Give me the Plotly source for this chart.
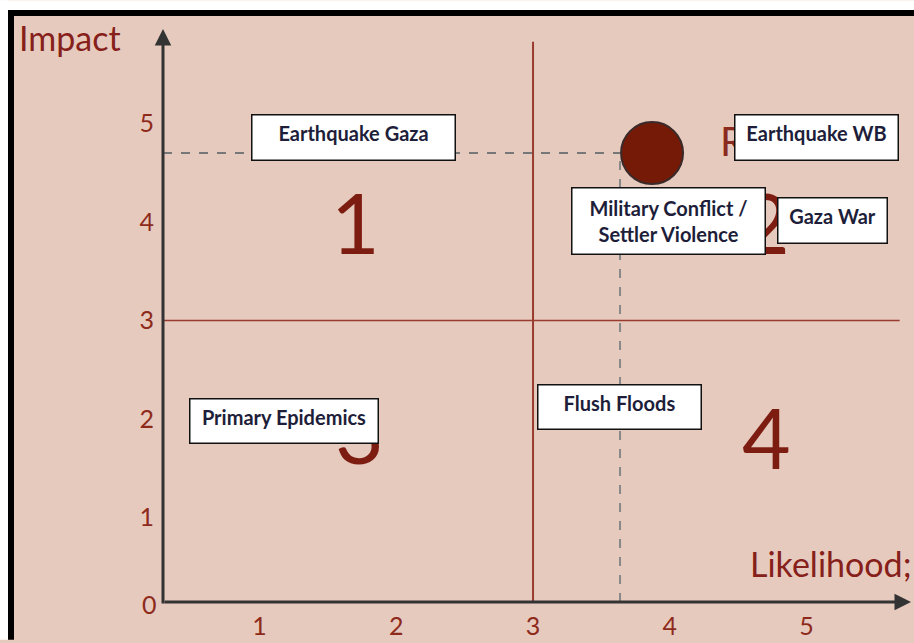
import plotly.graph_objects as go

# ---------------- data ----------------
x_ticks = [1, 2, 3, 4, 5]
y_ticks = [1, 2, 3, 4, 5]

risk_labels = ["Earthquake Gaza", "Earthquake WB", "Military Conflict /<br>Settler Violence",
               "Gaza War", "Primary Epidemics", "Flush Floods"]
risk_likelihood = [1.69, 5.07, 3.99, 5.19, 1.18, 3.63]
risk_impact = [4.86, 4.86, 4.01, 4.02, 1.98, 2.12]

quadrant_names = ["1", "2", "3", "4"]
quadrant_likelihood = [1.70, 4.70, 1.73, 4.71]
quadrant_impact = [4.01, 4.01, 1.87, 1.82]

highlight_likelihood = [3.87]
highlight_impact = [4.70]
guide_likelihood = 3.636
guide_impact = 4.70

split_likelihood = 3
split_impact = 3

# ---------------- styles ----------------
W, H = 914, 643
ML, MR, MT, MB = 163, 3, 29, 38
XR = [0.295, 5.763]
YR = [0.141, 5.96]
PINK = "#e6cabd"
RED = "#7d1d12"
TICKRED = "#8e2a1c"
LINE_RED = "#9a3b2f"
AXIS = "#333333"
TXT = "#1e1e3a"

box_w = [204, 164, 194, 110, 189, 164]
box_h = [46, 46, 67, 46, 45, 45]
box_valign = ["top", "top", "middle", "top", "top", "top"]

pw, ph = W - ML - MR, H - MT - MB


def px_x(px):
    return (px - ML) / pw


def px_y(py):
    return (H - MB - py) / ph


fig = go.Figure()

# highlighted risk marker
fig.add_trace(go.Scatter(
    x=highlight_likelihood, y=highlight_impact, mode="markers",
    marker=dict(size=62, color="#761a08", line=dict(color="#3a2a2a", width=2)),
    hoverinfo="skip", showlegend=False))

shapes = []
# quadrant split lines
shapes.append(dict(type="line", xref="x", yref="y", x0=split_likelihood, x1=split_likelihood,
                   y0=YR[0], y1=5.83, line=dict(color=LINE_RED, width=2), layer="below"))
shapes.append(dict(type="line", xref="x", yref="y", x0=XR[0], x1=5.68,
                   y0=split_impact, y1=split_impact, line=dict(color=LINE_RED, width=1.5), layer="below"))
# dashed guides
shapes.append(dict(type="line", xref="x", yref="y", x0=XR[0], x1=guide_likelihood,
                   y0=guide_impact, y1=guide_impact, line=dict(color="#777777", width=2, dash="dash"),
                   layer="below"))
shapes.append(dict(type="line", xref="x", yref="y", x0=guide_likelihood, x1=guide_likelihood,
                   y0=YR[0], y1=guide_impact, line=dict(color="#888888", width=2, dash="dash"),
                   layer="below"))
# frame strips (white margin + black border at top/left)
shapes.append(dict(type="rect", xref="paper", yref="paper", x0=px_x(0), x1=px_x(W),
                   y0=px_y(10), y1=px_y(0), fillcolor="white", line=dict(width=0)))
shapes.append(dict(type="rect", xref="paper", yref="paper", x0=px_x(8), x1=px_x(W),
                   y0=px_y(16), y1=px_y(10), fillcolor="black", line=dict(width=0)))
shapes.append(dict(type="rect", xref="paper", yref="paper", x0=px_x(0), x1=px_x(8),
                   y0=px_y(H), y1=px_y(0), fillcolor="white", line=dict(width=0)))
shapes.append(dict(type="rect", xref="paper", yref="paper", x0=px_x(8), x1=px_x(14),
                   y0=px_y(H), y1=px_y(10), fillcolor="black", line=dict(width=0)))

annotations = []
# axes arrows
annotations.append(dict(xref="paper", yref="paper", x=1, y=0, ax=-pw, ay=0, text="",
                        showarrow=True, arrowhead=2, arrowsize=1.1, arrowwidth=3, arrowcolor=AXIS,
                        standoff=0, startstandoff=0))
annotations.append(dict(xref="paper", yref="paper", x=0, y=1, ax=0, ay=ph, text="",
                        showarrow=True, arrowhead=2, arrowsize=1.1, arrowwidth=3, arrowcolor=AXIS,
                        standoff=0, startstandoff=0))
# quadrant numbers
for n, qx, qy in zip(quadrant_names, quadrant_likelihood, quadrant_impact):
    annotations.append(dict(x=qx, y=qy, text=n, showarrow=False,
                            font=dict(family="Lato", size=84, color=RED)))
# partially hidden "R"
annotations.append(dict(x=4.355, y=4.82, text="R", xanchor="left", showarrow=False,
                        font=dict(family="Lato", size=40, color="#8b2a1e")))
# axis titles and origin label
annotations.append(dict(xref="paper", yref="paper", x=px_x(17), y=px_y(38), xanchor="left",
                        yanchor="middle", text="Impact", showarrow=False,
                        font=dict(family="Lato", size=34, color="#86201a")))
annotations.append(dict(x=4.575, y=0.535, xanchor="left", yanchor="middle", text="Likelihood;",
                        showarrow=False, font=dict(family="Lato", size=34, color="#86201a")))
annotations.append(dict(xref="paper", yref="paper", x=px_x(149), y=px_y(607), xanchor="center",
                        yanchor="middle", text="0", showarrow=False,
                        font=dict(family="Lato", size=25, color=TICKRED)))
# risk label boxes
for lab, lx, ly, bw, bh, va in zip(risk_labels, risk_likelihood, risk_impact, box_w, box_h, box_valign):
    annotations.append(dict(x=lx, y=ly, text=lab, showarrow=False, xanchor="center", yanchor="middle",
                            width=bw - 10 - 2, height=bh - 10 - 2, align="center", valign=va,
                            bgcolor="white", bordercolor="#111111", borderwidth=1.5, borderpad=5,
                            font=dict(family="Lato", size=20, color=TXT, weight="bold")))

fig.update_layout(
    width=W, height=H,
    margin=dict(l=ML, r=MR, t=MT, b=MB, pad=0),
    paper_bgcolor=PINK, plot_bgcolor=PINK,
    showlegend=False,
    shapes=shapes, annotations=annotations,
    xaxis=dict(range=XR, tickvals=x_ticks, ticktext=[str(v) for v in x_ticks],
               showgrid=False, zeroline=False, showline=False,
               ticks="outside", ticklen=2, tickcolor="rgba(0,0,0,0)",
               tickfont=dict(family="Lato", size=25, color=TICKRED), fixedrange=True),
    yaxis=dict(range=YR, tickvals=y_ticks, ticktext=[str(v) for v in y_ticks],
               showgrid=False, zeroline=False, showline=False,
               ticks="outside", ticklen=3, tickcolor="rgba(0,0,0,0)",
               tickfont=dict(family="Lato", size=25, color=TICKRED), fixedrange=True),
)

fig.write_html("out.html")
